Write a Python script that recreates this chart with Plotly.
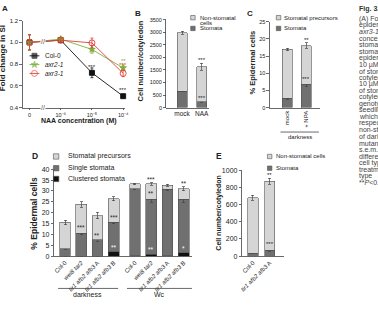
import plotly.graph_objects as go

# ---------------- data ----------------
# Panel A : fold change in stomatal index vs NAA concentration
conc_labels = ["0", "10⁻⁶", "10⁻⁵", "10⁻⁴"]
col0_si = [1.00, 1.02, 0.72, 0.505]
col0_err = [0.07, 0.02, 0.045, 0.015]
axr2_si = [1.00, 1.03, 0.935, 0.765]
axr2_err = [0.07, 0.02, 0.035, 0.025]
axr3_si = [1.00, 1.02, 0.995, 0.715]
axr3_err = [0.07, 0.02, 0.045, 0.03]
col0_stars = ["", "", "***", "***"]
axr2_stars = ["", "", "", "**"]
axr3_stars = ["", "", "", "***"]

# Panel B : cell number per cotyledon
b_cats = ["mock", "NAA"]
b_stomata = [650, 235]
b_stomata_err = [20, 30]
b_total = [2980, 1625]
b_total_err = [60, 130]
b_total_stars = ["", "***"]
b_stomata_stars = ["", "***"]

# Panel C : % epidermal cells, darkness
c_cats = ["mock", "+ NPA"]
c_stomata = [2.7, 6.8]
c_stomata_err = [0.3, 0.7]
c_total = [16.9, 18.0]
c_total_err = [0.4, 0.8]
c_total_stars = ["", "**"]
c_stomata_stars = ["", "***"]

# Panel D : % epidermal cells in darkness and Wc
d_cats = ["Col-0", "<i>wei8 tar2</i>", "<i>tir1 afb2 afb3</i> A", "<i>tir1 afb2 afb3</i> B"]
d_dark_clustered = [0.0, 0.0, 0.0, 2.0]
d_dark_single_top = [3.5, 10.6, 7.5, 15.6]
d_dark_single_err = [0.4, 0.8, 0.6, 0.8]
d_dark_total = [15.5, 23.8, 18.7, 26.4]
d_dark_total_err = [1.0, 1.3, 1.4, 1.0]
d_dark_total_stars = ["", "", "", ""]
d_dark_single_stars = ["", "***", "**", "***"]
d_dark_clustered_stars = ["", "", "", "**"]

d_wc_clustered = [0.3, 0.8, 0.3, 1.5]
d_wc_single_top = [31.1, 26.1, 30.7, 26.1]
d_wc_single_err = [0.6, 1.2, 0.6, 1.5]
d_wc_total = [33.2, 33.2, 32.6, 31.0]
d_wc_total_err = [0.4, 0.6, 0.5, 1.0]
d_wc_total_stars = ["", "***", "", "**"]
d_wc_single_stars = ["", "**", "", ""]
d_wc_clustered_stars = ["", "**", "", "*"]

# Panel E : cell number per cotyledon
e_cats = ["Col-0", "<i>tir1 afb2 afb3</i> A"]
e_stomata = [32, 68]
e_stomata_err = [5, 10]
e_total = [680, 870]
e_total_err = [30, 35]
e_total_stars = ["", "**"]
e_stomata_stars = ["", "***"]

caption_lines = ["(A) Fold", "epidermis", "<i>axr3-1</i>", "concentr", "stomatal",
                 "stomata", "epidermal", "10 µM", "of stomata", "cotyledon",
                 "10 µM", "of stomata", "cotyledon", "genotypes", "seedlings",
                 "which", "respectively", "non-stomatal", "of dark", "mutants",
                 "s.e.m.", "different", "cell type", "treatment", "type",
                 "**<i>P</i><0.01"]

# ---------------- styling ----------------
W, H = 378, 310
FONT = "Liberation Sans, Arial, sans-serif"
TXT = "#222222"
AX = "#444444"
LIGHT = "#d5d5d5"
DARK = "#707070"
BLACK = "#111111"
EDGE = "#505050"
GREEN = "#7fae3a"
RED = "#e2403a"


def px(x):
    return x / W


def py(y):
    return 1 - y / H


annotations = []
shapes = []


def ann(text, x, y, size, bold=False, xanchor="center", yanchor="middle",
        angle=0, color=TXT, **kw):
    if bold:
        text = "<b>" + text + "</b>"
    d = dict(text=text, x=px(x), y=py(y), xref="paper", yref="paper",
             showarrow=False, xanchor=xanchor, yanchor=yanchor,
             textangle=angle, font=dict(family=FONT, size=size, color=color),
             borderpad=0)
    d.update(kw)
    annotations.append(d)


def legend_square(x, y, color, s=5):
    shapes.append(dict(type="rect", xref="paper", yref="paper",
                       x0=px(x - s / 2), x1=px(x + s / 2),
                       y0=py(y + s / 2), y1=py(y - s / 2),
                       fillcolor=color, line=dict(color=EDGE, width=0.6)))


def hline(x0, x1, y):
    shapes.append(dict(type="line", xref="paper", yref="paper",
                       x0=px(x0), x1=px(x1), y0=py(y), y1=py(y),
                       line=dict(color=AX, width=0.8)))


def stars(xa, ya, cats, tops, errs, labels, color=TXT, size=6, yshift=-1):
    for c, t, e, lab in zip(cats, tops, errs, labels):
        if lab:
            annotations.append(dict(text=lab, x=c, y=t + e, xref=xa, yref=ya,
                                    showarrow=False, yanchor="bottom",
                                    yshift=yshift, borderpad=0,
                                    font=dict(family=FONT, size=size, color=color)))


def axis_style(size):
    return dict(showline=True, linecolor=AX, linewidth=0.8, ticks="outside",
                ticklen=2.5, tickwidth=0.8, tickcolor=AX, showgrid=False,
                zeroline=False, tickfont=dict(family=FONT, size=size, color=TXT),
                fixedrange=True)


fig = go.Figure()

# ---------------- Panel A ----------------
for name, vals, errs, color, sym, fill in [
        ("Col-0", col0_si, col0_err, BLACK, "square", BLACK),
        ("axr2-1", axr2_si, axr2_err, GREEN, "star", GREEN),
        ("axr3-1", axr3_si, axr3_err, RED, "circle-open", RED)]:
    fig.add_trace(go.Scatter(
        x=conc_labels, y=vals, mode="lines+markers", name=name,
        line=dict(color=color, width=0.9),
        marker=dict(symbol=sym, size=5 if sym != "circle-open" else 6,
                    color=fill, line=dict(color=color, width=0.9)),
        error_y=dict(type="data", array=errs, color=color, thickness=0.8, width=1.5),
        xaxis="x", yaxis="y", showlegend=False, cliponaxis=False))

stars("x", "y", conc_labels, col0_si, [0.03] * 4, col0_stars, color=TXT, size=6)
stars("x", "y", conc_labels, axr3_si, [0.085] * 4, axr2_stars, color=GREEN, size=6)
stars("x", "y", conc_labels, axr3_si, [0.045] * 4, axr3_stars, color=RED, size=6)

# axis breaks
ann("//", 42, 38, 7, color=AX, bgcolor="white")
ann("//", 42, 106, 7, color=AX, bgcolor="white")

# Panel A legend (markers drawn on a pixel overlay axis)
leg_rows = [("Col-0", BLACK, "square", BLACK, 53),
            ("<i>axr2-1</i>", GREEN, "star", GREEN, 62),
            ("<i>axr3-1</i>", RED, "circle-open", RED, 71)]
for lab, color, sym, fill, yy in leg_rows:
    shapes.append(dict(type="line", xref="paper", yref="paper",
                       x0=px(28), x1=px(38), y0=py(yy), y1=py(yy),
                       line=dict(color=color, width=0.9)))
    ann(lab, 43, yy, 6.5, xanchor="left")
fig.add_trace(go.Scatter(
    x=[33, 33, 33], y=[r[4] for r in leg_rows], mode="markers",
    marker=dict(symbol=[r[2] for r in leg_rows], size=[5, 5, 6],
                color=[r[3] for r in leg_rows],
                line=dict(color=[r[1] for r in leg_rows], width=0.9)),
    xaxis="x7", yaxis="y7", showlegend=False, hoverinfo="skip"))

ann("A", -1, 5, 8, bold=True, xanchor="left")
ann("Fold change in SI", 0.5, 55, 8, bold=True, angle=-90)
ann("NAA concentration (M)", 78, 119.5, 7, bold=True)


# ---------------- stacked bar helper ----------------
def stacked(xa, ya, cats, segs, width):
    """segs: list of (values, errs, color) from bottom to top"""
    for vals, errs, color in segs:
        fig.add_trace(go.Bar(
            x=cats, y=vals, width=width, xaxis=xa, yaxis=ya,
            marker=dict(color=color, line=dict(color=EDGE, width=0.6)),
            error_y=dict(type="data", array=errs, color=AX, thickness=0.7, width=1.5),
            showlegend=False))


# ---------------- Panel B ----------------
b_non = [t - s for t, s in zip(b_total, b_stomata)]
stacked("x2", "y2", b_cats, [(b_stomata, b_stomata_err, DARK),
                             (b_non, b_total_err, LIGHT)], 0.5)
stars("x2", "y2", b_cats, b_total, b_total_err, b_total_stars, size=6)
stars("x2", "y2", b_cats, b_stomata, b_stomata_err, b_stomata_stars, size=6)
ann("B", 138, 10, 8, bold=True)
ann("Cell number/cotyledon", 141, 58, 7.5, bold=True, angle=-90)
legend_square(194, 14, LIGHT, 4.5)
legend_square(194, 25, DARK, 4.5)
ann("Non-stomatal", 200, 14, 6, xanchor="left")
ann("cells", 200, 19.5, 6, xanchor="left")
ann("Stomata", 200, 25, 6, xanchor="left")

# ---------------- Panel C ----------------
c_non = [t - s for t, s in zip(c_total, c_stomata)]
stacked("x3", "y3", c_cats, [(c_stomata, c_stomata_err, DARK),
                             (c_non, c_total_err, LIGHT)], 0.53)
stars("x3", "y3", c_cats, c_total, c_total_err, c_total_stars, size=6)
stars("x3", "y3", c_cats, c_stomata, c_stomata_err, c_stomata_stars, size=6)
ann("C", 252, 10, 8, bold=True)
ann("% Epidermal cells", 255, 60, 7.5, bold=True, angle=-90)
legend_square(281, 14, LIGHT, 4.5)
legend_square(281, 25, DARK, 4.5)
ann("Stomatal precursors", 286, 14, 6, xanchor="left")
ann("Stomata", 286, 25, 6, xanchor="left")
hline(283, 322, 131)
ann("darkness", 303, 136, 6)

# ---------------- Panel D ----------------
for xa, ya, clus, stop, serr, tot, terr, tst, sst, cst in [
        ("x4", "y4", d_dark_clustered, d_dark_single_top, d_dark_single_err,
         d_dark_total, d_dark_total_err, d_dark_total_stars, d_dark_single_stars,
         d_dark_clustered_stars),
        ("x5", "y5", d_wc_clustered, d_wc_single_top, d_wc_single_err,
         d_wc_total, d_wc_total_err, d_wc_total_stars, d_wc_single_stars,
         d_wc_clustered_stars)]:
    single = [s - c for s, c in zip(stop, clus)]
    prec = [t - s for t, s in zip(tot, stop)]
    stacked(xa, ya, d_cats, [(clus, [0.0] * 4, BLACK),
                             (single, serr, DARK),
                             (prec, terr, LIGHT)], 0.66)
    stars(xa, ya, d_cats, tot, terr, tst, size=6.5)
    stars(xa, ya, d_cats, stop, serr, sst, size=6.5)
    stars(xa, ya, d_cats, clus, [0.6] * 4, cst, color="white", size=6.5)

ann("D", 34, 155, 8.5, bold=True)
ann("% Epidermal cells", 33, 214, 8.5, bold=True, angle=-90)
legend_square(55, 156, LIGHT, 5.5)
legend_square(55, 168, DARK, 5.5)
legend_square(55, 179, BLACK, 5.5)
ann("Stomatal precursors", 66, 156, 7, xanchor="left")
ann("Single stomata", 66, 168, 7, xanchor="left")
ann("Clustered stomata", 66, 179, 7, xanchor="left")
hline(57, 118, 291)
ann("darkness", 87, 297, 7)
hline(127, 193, 291)
ann("Wc", 160, 297, 7)

# ---------------- Panel E ----------------
e_non = [t - s for t, s in zip(e_total, e_stomata)]
stacked("x6", "y6", e_cats, [(e_stomata, e_stomata_err, DARK),
                             (e_non, e_total_err, LIGHT)], 0.6)
stars("x6", "y6", e_cats, e_total, e_total_err, e_total_stars, size=6)
stars("x6", "y6", e_cats, e_stomata, [40, 40], e_stomata_stars, size=6)
ann("E", 220, 155, 8.5, bold=True)
ann("Cell number/cotyledon", 221, 214, 7, bold=True, angle=-90)
legend_square(272, 156, LIGHT, 4.5)
legend_square(272, 168, DARK, 4.5)
ann("Non-stomatal cells", 277, 156, 6, xanchor="left")
ann("Stomata", 277, 168, 6, xanchor="left")

# ---------------- caption column ----------------
ann("Fig. 3.", 362, 5, 7, bold=True, xanchor="left", color="#333333")
for i, line in enumerate(caption_lines):
    ann(line, 362, 15 + i * 6.7, 7, xanchor="left", color="#444444")

# ---------------- layout ----------------
xa_A = axis_style(5.5)
xa_A.update(type="category", domain=[px(21), px(125)], range=[-0.22, 3.06],
            anchor="y", ticklen=2)
ya_A = axis_style(6)
ya_A.update(domain=[py(106), py(17)], range=[0.4, 1.2], dtick=0.2,
            tickformat=".1f", anchor="x")

xa_B = axis_style(6.5)
xa_B.update(type="category", domain=[px(167), px(210)], range=[-0.8, 1.35],
            anchor="y2", ticks="")
ya_B = axis_style(5.5)
ya_B.update(domain=[py(106), py(16)], range=[0, 3500], dtick=500, anchor="x2")

xa_C = axis_style(6)
xa_C.update(type="category", domain=[px(272), px(323)], range=[-0.95, 1.74],
            anchor="y3", ticks="", tickangle=-90)
ya_C = axis_style(5.5)
ya_C.update(domain=[py(106), py(18)], range=[0, 25], dtick=5, anchor="x3")

xa_D1 = axis_style(6)
xa_D1.update(type="category", domain=[px(53), px(124)], range=[-0.67, 3.64],
             anchor="y4", ticks="", tickangle=-45)
ya_D1 = axis_style(7)
ya_D1.update(domain=[py(258), py(169)], range=[0, 40], dtick=5, anchor="x4")
xa_D2 = axis_style(6)
xa_D2.update(type="category", domain=[px(124), px(193)], range=[-0.67, 3.51],
             anchor="y5", ticks="", tickangle=-45)
ya_D2 = dict(domain=[py(258), py(169)], range=[0, 40], visible=False,
             anchor="x5", fixedrange=True)

xa_E = axis_style(6)
xa_E.update(type="category", domain=[px(244), px(287)], range=[-0.65, 1.88],
            anchor="y6", ticks="", tickangle=-45)
ya_E = axis_style(7)
ya_E.update(domain=[py(258), py(170)], range=[0, 1000], dtick=200, anchor="x6")

xa_px = dict(domain=[0, 1], range=[0, W], visible=False, fixedrange=True, anchor="y7")
ya_px = dict(domain=[0, 1], range=[H, 0], visible=False, fixedrange=True, anchor="x7")

fig.update_layout(
    width=W, height=H, margin=dict(l=0, r=0, t=0, b=0),
    paper_bgcolor="white", plot_bgcolor="rgba(0,0,0,0)",
    barmode="stack", bargap=0, showlegend=False,
    font=dict(family=FONT, size=6, color=TXT),
    xaxis=xa_A, yaxis=ya_A, xaxis2=xa_B, yaxis2=ya_B, xaxis3=xa_C, yaxis3=ya_C,
    xaxis4=xa_D1, yaxis4=ya_D1, xaxis5=xa_D2, yaxis5=ya_D2,
    xaxis6=xa_E, yaxis6=ya_E, xaxis7=xa_px, yaxis7=ya_px,
    annotations=annotations, shapes=shapes,
)

fig.write_html("out.html", config=dict(displayModeBar=False, staticPlot=True))
